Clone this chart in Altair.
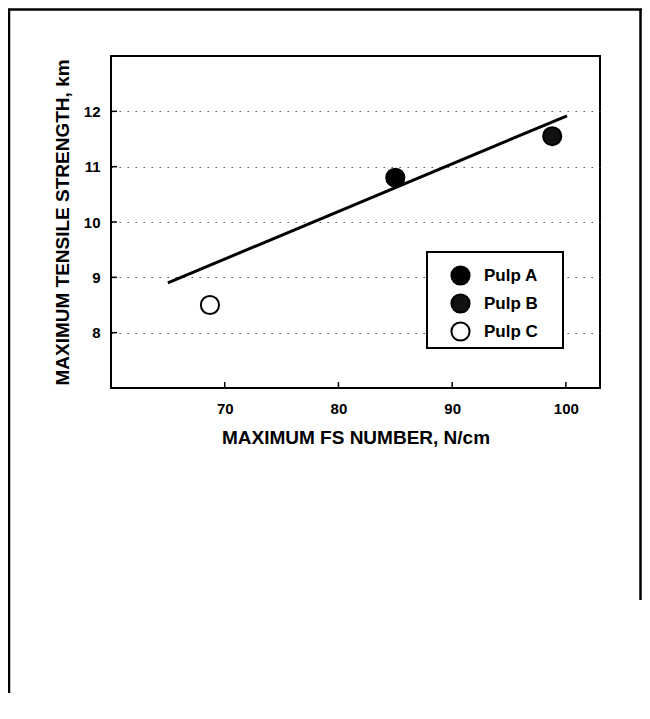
import altair as alt
import pandas as pd

# ---- data ----
pulp = ["Pulp A", "Pulp B", "Pulp C"]
fs_number = [85.0, 98.8, 68.7]
tensile = [10.8, 11.55, 8.5]
fit_fs = [65.0, 100.1]
fit_tensile = [8.9, 11.92]
x_ticks = [70, 80, 90, 100]
y_ticks = [8, 9, 10, 11, 12]
pulp_fill = ["#000000", "#111111", "#ffffff"]

W, H = 489, 332
FONT = "Liberation Sans"

pts = pd.DataFrame({"fs": fs_number, "ts": tensile, "pulp": pulp})
fit = pd.DataFrame({"fs": fit_fs, "ts": fit_tensile})
xt = pd.DataFrame({"fs": x_ticks})
yt = pd.DataFrame({"ts": y_ticks})

xscale = alt.Scale(domain=[60, 103], nice=False, zero=False)
yscale = alt.Scale(domain=[7, 13], nice=False, zero=False)

xaxis = alt.Axis(values=x_ticks, title="MAXIMUM FS NUMBER, N/cm", grid=False,
                 labelPadding=13, titleY=49, titleBaseline="middle")
yaxis = alt.Axis(values=y_ticks, title="MAXIMUM TENSILE STRENGTH, km", grid=True,
                 gridDash=[1.5, 6.5], gridColor="#555555", gridWidth=1,
                 labelPadding=11, titleX=-49, titleY=H / 2, titleBaseline="middle")

X = alt.X("fs:Q", scale=xscale, axis=xaxis)
Y = alt.Y("ts:Q", scale=yscale, axis=yaxis)

fit_line = alt.Chart(fit).mark_line(color="black", strokeWidth=3).encode(x=X, y=Y)

ytick_marks = alt.Chart(yt).mark_rule(color="black", strokeWidth=1.5).encode(
    y=Y, x=alt.value(0), x2=alt.value(6))
xtick_marks = alt.Chart(xt).mark_rule(color="black", strokeWidth=1.5).encode(
    x=X, y=alt.value(H), y2=alt.value(H - 6))

points = alt.Chart(pts).mark_point(filled=True, size=330, stroke="black",
                                   strokeWidth=2, opacity=1, shape="circle").encode(
    x=X, y=Y,
    fill=alt.Fill("pulp:N", scale=alt.Scale(domain=pulp, range=pulp_fill),
                  legend=alt.Legend(title=None, orient="none", legendX=316, legendY=202,
                                    padding=7,
                                    symbolType="circle", symbolSize=330,
                                    symbolStrokeColor="black", symbolStrokeWidth=2,
                                    symbolOffset=16, labelOffset=13, rowPadding=1,
                                    labelFont=FONT, labelFontSize=17,
                                    labelFontWeight="bold", labelColor="black")),
)

one = alt.Data(values=[{"k": 1}])
# legend frame (decoration)
legend_box = alt.Chart(one).mark_rect(fill="white", stroke="black", strokeWidth=2).encode(
    x=alt.value(316), x2=alt.value(452), y=alt.value(196), y2=alt.value(292))

# page frame (decoration around the figure)
frame_left = alt.Chart(one).mark_rule(color="black", strokeWidth=2.5).encode(
    x=alt.value(-102), x2=alt.value(-102), y=alt.value(-47), y2=alt.value(H + 330))
frame_top = alt.Chart(one).mark_rule(color="black", strokeWidth=2.5).encode(
    x=alt.value(-103), x2=alt.value(531), y=alt.value(-46.5), y2=alt.value(-46.5))
frame_right = alt.Chart(one).mark_rule(color="black", strokeWidth=2.5).encode(
    x=alt.value(529.5), x2=alt.value(529.5), y=alt.value(-47), y2=alt.value(544))

chart = alt.layer(
    frame_left, frame_top, frame_right,
    ytick_marks, xtick_marks, fit_line, legend_box, points
).properties(
    width=W, height=H,
    background="white",
    autosize=alt.AutoSizeParams(type="none"),
    padding={"left": 103, "top": 48, "right": 42, "bottom": 305},
).configure_view(
    stroke="black", strokeWidth=2
).configure_axis(
    domain=False, ticks=False,
    labelFont=FONT, labelFontSize=15, labelFontWeight="bold", labelColor="black",
    titleFont=FONT, titleFontSize=19, titleFontWeight="bold", titleColor="black",
)

chart.save("out.html", embed_options={"renderer": "svg", "actions": False})
